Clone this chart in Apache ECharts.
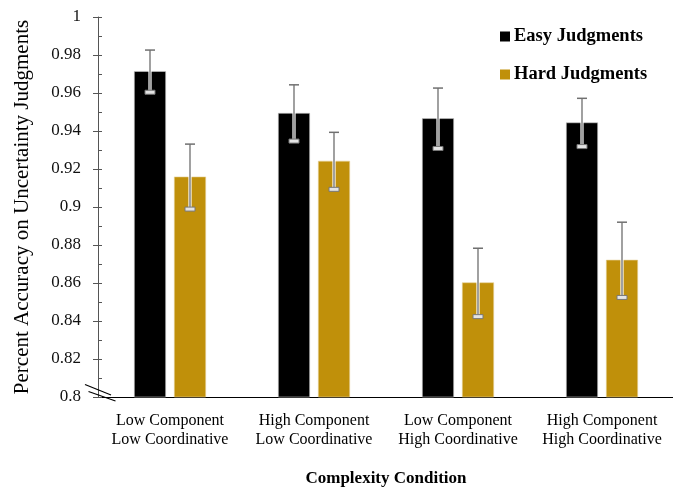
<!DOCTYPE html>
<html>
<head>
<meta charset="utf-8">
<script src="https://cdn.jsdelivr.net/npm/echarts@6/dist/echarts.min.js"></script>
<style>
  html, body { margin: 0; padding: 0; background: #fff; }
  #chart { width: 673px; height: 487px; }
</style>
</head>
<body>
<div id="chart"></div>
<script>
// Complexity conditions (two-line category labels)
var categories = [
  'Low Component\nLow Coordinative',
  'High Component\nLow Coordinative',
  'Low Component\nHigh Coordinative',
  'High Component\nHigh Coordinative'
];
var easyValues = [0.9715, 0.9495, 0.9467, 0.9445];
var hardValues = [0.9160, 0.9243, 0.8603, 0.8722];
// Half-widths of the error bars
var easyErrors = [0.0111, 0.0148, 0.0159, 0.0127];
var hardErrors = [0.0171, 0.0150, 0.0180, 0.0198];
var yTicks = [0.8, 0.82, 0.84, 0.86, 0.88, 0.9, 0.92, 0.94, 0.96, 0.98, 1];

var EASY_COLOR = '#000000';
var HARD_COLOR = '#C0900A';
var BAR_WIDTH = 32;
var BAR_GAP = 8;
var SERIF = '"Liberation Serif", "Times New Roman", serif';

var chart = echarts.init(document.getElementById('chart'), null, { renderer: 'canvas' });

function errorData(values, errors) {
  return values.map(function (v, i) { return [i, v - errors[i], v + errors[i]]; });
}

// Error bar: outlined stem, flat top cap, hollow bottom cap
function errorRenderer(shift) {
  return function (params, api) {
    var idx = api.value(0);
    var lo = api.coord([idx, api.value(1)]);
    var hi = api.coord([idx, api.value(2)]);
    var x = lo[0] + shift;
    var cap = 5;
    return {
      type: 'group',
      children: [
        { type: 'line', shape: { x1: x, y1: hi[1], x2: x, y2: lo[1] },
          style: { stroke: '#ffffff', lineWidth: 3.2 } },
        { type: 'line', shape: { x1: x, y1: hi[1], x2: x, y2: lo[1] },
          style: { stroke: '#6e6e6e', lineWidth: 1.3 } },
        { type: 'line', shape: { x1: x - cap, y1: hi[1], x2: x + cap, y2: hi[1] },
          style: { stroke: '#707070', lineWidth: 1.5 } },
        { type: 'rect', shape: { x: x - cap, y: lo[1] - 2, width: cap * 2, height: 4 },
          style: { fill: '#e4e4e4', stroke: '#777777', lineWidth: 1 } }
      ]
    };
  };
}

var shift = (BAR_WIDTH + BAR_GAP) / 2;

var option = {
  animation: false,
  backgroundColor: '#ffffff',
  grid: { left: 98, top: 17, width: 576, height: 380, containLabel: false, outerBoundsMode: 'none' },
  legend: {
    orient: 'vertical',
    left: 495,
    top: 22,
    icon: 'rect',
    itemWidth: 10,
    itemHeight: 10,
    itemGap: 19,
    itemStyle: { borderWidth: 0 },
    textStyle: { fontFamily: SERIF, fontWeight: 'bold', fontSize: 18.5, color: '#000', padding: [0, 0, 0, -1] },
    data: ['Easy Judgments', 'Hard Judgments']
  },
  xAxis: {
    type: 'category',
    data: categories,
    name: 'Complexity Condition',
    nameLocation: 'middle',
    nameGap: 73,
    nameTextStyle: { fontFamily: SERIF, fontWeight: 'bold', fontSize: 17, color: '#000' },
    axisLine: { lineStyle: { color: '#000', width: 1.2 } },
    axisTick: { show: false },
    axisLabel: { interval: 0, fontFamily: SERIF, fontSize: 16, color: '#000', lineHeight: 19, margin: 14 }
  },
  yAxis: [
    {
      type: 'value',
      min: 0.8, max: 1, interval: 0.02,
      name: 'Percent Accuracy on Uncertainty Judgments',
      nameLocation: 'middle',
      nameGap: 65,
      nameTextStyle: { fontFamily: SERIF, fontSize: 21, color: '#000' },
      axisLine: { show: true, lineStyle: { color: '#555', width: 1 } },
      axisTick: { show: true, length: 5, lineStyle: { color: '#555' } },
      minorTick: { show: false },
      splitLine: { show: false },
      axisLabel: {
        fontFamily: SERIF, fontSize: 17, color: '#111', margin: 17,
        formatter: function (v) {
          var t = yTicks.filter(function (k) { return Math.abs(k - v) < 1e-9; })[0];
          return t === undefined ? '' : String(t);
        }
      }
    },
    {
      // Inner ticks (major + minor) drawn on the same scale
      type: 'value',
      min: 0.8, max: 1, interval: 0.02,
      position: 'left',
      axisLine: { show: false },
      axisTick: { show: true, inside: true, length: 4, lineStyle: { color: '#555' } },
      minorTick: { show: true, splitNumber: 2, length: 4, lineStyle: { color: '#555' } },
      axisLabel: { show: false },
      splitLine: { show: false }
    }
  ],
  series: [
    {
      name: 'Easy Judgments', type: 'bar', data: easyValues,
      barWidth: BAR_WIDTH, barGap: (BAR_GAP / BAR_WIDTH * 100) + '%',
      itemStyle: { color: EASY_COLOR, borderColor: '#cfcfcf', borderWidth: 0.6 }
    },
    {
      name: 'Hard Judgments', type: 'bar', data: hardValues,
      barWidth: BAR_WIDTH,
      itemStyle: { color: HARD_COLOR, borderColor: '#e6d29a', borderWidth: 0.6 }
    },
    {
      type: 'custom', name: 'easyErr', data: errorData(easyValues, easyErrors),
      renderItem: errorRenderer(-shift), z: 10, silent: true
    },
    {
      type: 'custom', name: 'hardErr', data: errorData(hardValues, hardErrors),
      renderItem: errorRenderer(shift), z: 10, silent: true
    }
  ],
  graphic: [
    // axis break marks near the origin
    { type: 'line', shape: { x1: 85, y1: 384.5, x2: 111, y2: 395 },
      style: { stroke: '#000', lineWidth: 1.2 }, z: 100 },
    { type: 'line', shape: { x1: 88.5, y1: 391.5, x2: 115.5, y2: 401 },
      style: { stroke: '#000', lineWidth: 1.2 }, z: 100 },
    { type: 'rect', shape: { x: 92, y: 390.5, width: 5, height: 3 },
      style: { fill: '#fff' }, z: 99 }
  ]
};

chart.setOption(option);
</script>
</body>
</html>
